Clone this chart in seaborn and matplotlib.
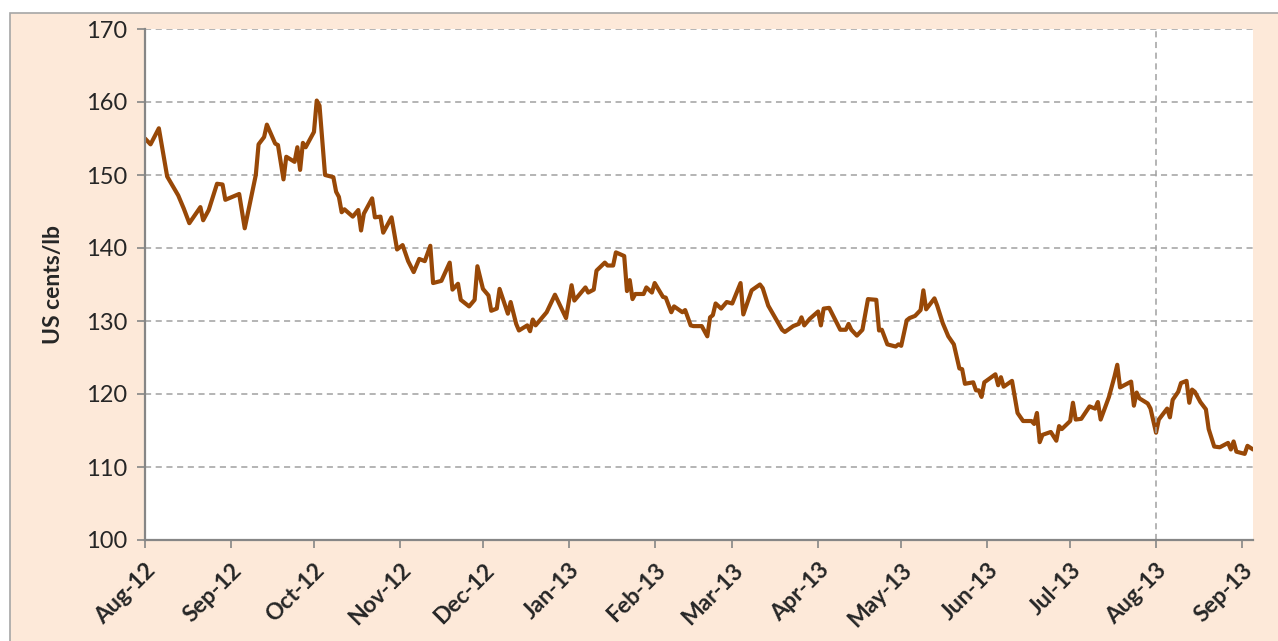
import pandas as pd
import matplotlib
matplotlib.use("Agg")
import matplotlib.pyplot as plt
import matplotlib.dates as mdates
from matplotlib.patches import Rectangle
import seaborn as sns

# days since 2012-08-01 and price (US cents/lb)
start = "2012-08-01"
days = [0, 2, 5, 8, 12, 14, 16, 20, 21, 23, 26, 28, 29, 34, 36, 40, 41, 43, 44, 47,
        48, 50, 51, 54, 55, 56, 57, 58, 61, 62, 63, 65, 68, 69, 70, 71, 72, 75, 77, 78,
        79, 82, 83, 85, 86, 89, 91, 93, 95, 97, 99, 101, 103, 104, 107, 110, 111, 113, 114, 117,
        119, 120, 122, 124, 125, 127, 128, 131, 132, 134, 135, 138, 139, 140, 141, 145, 148, 152, 154, 155,
        159, 160, 162, 163, 166, 167, 169, 170, 173, 174, 175, 176, 177, 180, 181, 183, 184, 187, 188, 190,
        191, 194, 195, 197, 198, 201, 203, 204, 205, 206, 208, 210, 212, 215, 216, 217, 219, 222, 223, 225,
        230, 231, 234, 236, 237, 238, 240, 243, 244, 245, 247, 251, 253, 254, 255, 257, 259, 261, 264, 265,
        266, 268, 271, 272, 273, 275, 276, 278, 280, 281, 282, 285, 286, 288, 290, 292, 294, 295, 296, 299,
        300, 301, 302, 303, 307, 308, 309, 310, 313, 315, 317, 320, 321, 322, 323, 324, 327, 329, 330, 331,
        334, 335, 336, 338, 341, 343, 344, 345, 348, 350, 351, 352, 356, 357, 358, 359, 362, 363, 365, 366,
        369, 370, 371, 373, 374, 376, 377, 378, 379, 381, 383, 384, 386, 388, 391, 392, 393, 394, 396, 397,
        398, 400]
price = [155.0, 154.2, 156.4, 149.8, 147.2, 145.4, 143.4, 145.6, 143.8, 145.2, 148.8, 148.7, 146.6, 147.4, 142.7, 150.0, 154.2, 155.2, 156.9, 154.3,
         154.1, 149.4, 152.5, 151.8, 153.8, 150.7, 154.4, 153.8, 155.9, 160.2, 159.5, 150.0, 149.7, 147.7, 147.0, 144.9, 145.3, 144.3, 145.2, 142.4,
         144.7, 146.8, 144.2, 144.3, 142.1, 144.2, 139.8, 140.4, 138.2, 136.7, 138.5, 138.2, 140.3, 135.2, 135.5, 138.0, 134.3, 135.1, 132.9, 132.0,
         132.9, 137.5, 134.4, 133.5, 131.4, 131.7, 134.4, 131.0, 132.6, 129.6, 128.7, 129.4, 128.6, 130.2, 129.4, 131.2, 133.6, 130.4, 134.9, 132.8,
         134.6, 133.9, 134.3, 136.9, 138.0, 137.6, 137.6, 139.4, 138.9, 134.1, 135.6, 133.0, 133.7, 133.7, 134.6, 133.9, 135.2, 133.3, 133.2, 131.2,
         132.0, 131.2, 131.5, 129.4, 129.3, 129.3, 127.9, 130.5, 130.8, 132.4, 131.7, 132.6, 132.4, 135.2, 130.9, 132.0, 134.2, 135.0, 134.5, 132.1,
         128.8, 128.5, 129.3, 129.6, 130.5, 129.4, 130.3, 131.3, 129.4, 131.7, 131.8, 128.8, 128.8, 129.6, 128.8, 128.0, 128.8, 133.0, 132.9, 128.7,
         128.8, 126.8, 126.5, 126.8, 126.6, 130.1, 130.4, 130.7, 131.5, 134.2, 131.6, 133.1, 132.1, 129.7, 127.9, 126.8, 123.5, 123.4, 121.4, 121.6,
         120.5, 120.5, 119.6, 121.6, 122.7, 121.2, 122.3, 121.0, 121.8, 117.4, 116.3, 116.3, 115.9, 117.4, 113.4, 114.4, 114.8, 113.6, 115.6, 115.2,
         116.3, 118.8, 116.5, 116.6, 118.3, 118.0, 118.9, 116.5, 119.6, 122.4, 124.0, 120.9, 121.7, 118.4, 120.2, 119.4, 118.7, 118.0, 114.7, 116.5,
         118.0, 116.8, 119.2, 120.3, 121.5, 121.8, 118.8, 120.6, 120.3, 118.9, 117.9, 115.2, 112.8, 112.7, 113.3, 112.4, 113.5, 112.1, 111.9, 111.8,
         112.9, 112.4]
y_ticks = [100, 110, 120, 130, 140, 150, 160, 170]

df = pd.DataFrame({
    "date": pd.Timestamp(start) + pd.to_timedelta(days, unit="D"),
    "price": price,
})

sns.set_style("ticks")
plt.rcParams["font.family"] = ["Lato", "DejaVu Sans"]

fig = plt.figure(figsize=(12.78, 6.41), dpi=100, facecolor="white")
fig.patches.append(Rectangle((10 / 1278, -0.05), 1.1, 1 - 13 / 641 + 0.05,
                             transform=fig.transFigure, facecolor="#FDE9D9",
                             edgecolor="#A6A6A6", linewidth=1.2, zorder=-10))
ax = fig.add_axes([145 / 1278, 1 - 540 / 641, (1253 - 145) / 1278, (540 - 29) / 641])
ax.set_facecolor("white")

sns.lineplot(data=df, x="date", y="price", color="#984807", linewidth=3.0, ax=ax)

ax.set_ylim(100, 170)
ax.set_yticks(y_ticks)
ax.set_xlim(df["date"].iloc[0], df["date"].iloc[-1])
ax.xaxis.set_major_locator(mdates.MonthLocator())
ax.xaxis.set_major_formatter(mdates.DateFormatter("%b-%y"))

ax.yaxis.grid(True, color="#A0A0A0", linestyle=(0, (4, 3)), linewidth=1.1)
ax.axvline(pd.Timestamp("2013-08-01"), color="#A0A0A0", linestyle=(0, (4, 3)), linewidth=1.1)
ax.set_axisbelow(True)

for side in ["top", "right"]:
    ax.spines[side].set_visible(False)
for side in ["left", "bottom"]:
    ax.spines[side].set_color("#868686")
    ax.spines[side].set_linewidth(1.6)

ax.tick_params(axis="y", length=6, width=1.2, color="#868686", labelsize=17, pad=6.5)
ax.tick_params(axis="x", length=6, width=1.2, color="#868686", labelsize=16.5, pad=8)
for lbl in ax.get_xticklabels():
    lbl.set_rotation(45)
    lbl.set_ha("right")
    lbl.set_rotation_mode("anchor")
    lbl.set_fontweight("bold")

ax.set_xlabel("")
ax.set_ylabel("US cents/lb", fontsize=16.5, fontweight="bold", labelpad=16)

fig.savefig("out.png", dpi=100, facecolor=fig.get_facecolor())
